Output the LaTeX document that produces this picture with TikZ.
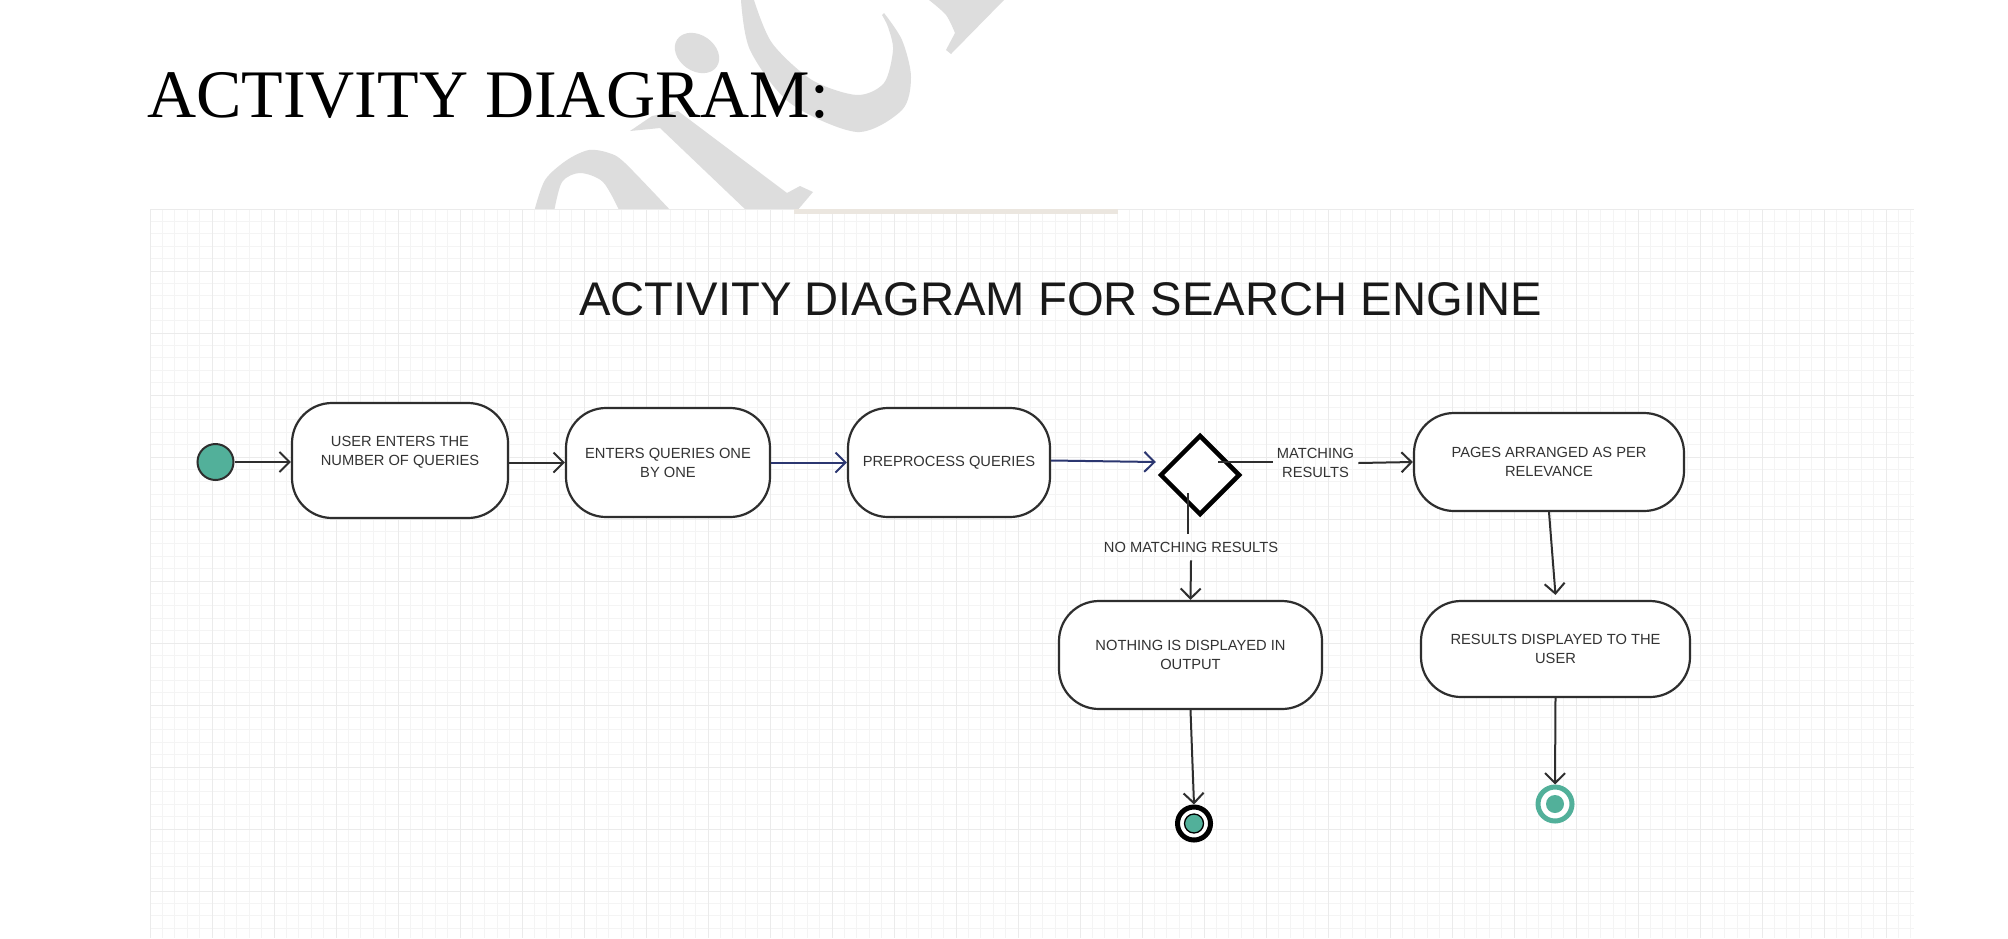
\documentclass[tikz,border=0pt]{standalone}
\usepackage{fontspec}
\setmainfont{Liberation Serif}
\newfontfamily\arialf{Liberation Sans}
\usetikzlibrary{arrows.meta,shapes.geometric}
\definecolor{tealc}{HTML}{52B09A}
\definecolor{navyc}{HTML}{2B3670}
\definecolor{wmc}{HTML}{DDDDDD}
\definecolor{gridminor}{HTML}{F4F4F4}
\definecolor{gridmajor}{HTML}{EBEBEB}
\definecolor{barc}{HTML}{EBE6DF}
\definecolor{txtc}{HTML}{333333}
\definecolor{linec}{HTML}{2E2E2E}
\tikzset{
  actbox/.style={draw=linec, line width=2.2pt, rounded corners=40pt, fill=white, inner sep=0pt, align=center, text=txtc, font=\arialf\fontsize{14.7}{19}\selectfont},
  lbl/.style={text=txtc, align=center, font=\arialf\fontsize{14.7}{19}\selectfont, inner sep=4pt},
  txtonly/.style={text=txtc, align=center, font=\arialf\fontsize{14.7}{19}\selectfont, inner sep=0pt},
  arr/.style={draw=linec, line width=2pt, -{Straight Barb[length=10pt,width=20pt]}},
  arrn/.style={arr, draw=navyc},
  plain/.style={draw=linec, line width=2pt},
  wm/.style={fill=wmc, draw=none}
}
\begin{document}
\begin{tikzpicture}[x=1pt,y=-1pt]
\useasboundingbox (0,0) rectangle (2008,938);
\fill[white] (0,0) rectangle (2008,938);
% watermark fragments
\fill[wm] plot[smooth] coordinates {(741,0) (750,50) (790,103) (857,132) (902,110) (911,77) (902,40) (884,13)}
  -- plot[smooth] coordinates {(882,15) (888,27) (893,50) (884,83) (857,95) (812,80) (772,43) (754,0)} -- cycle;
\fill[wm] plot[smooth] coordinates {(929,0) (946,15) (955,33)} -- (946,50) -- (951,54) -- (1004,0) -- cycle;
\fill[wm, rotate around={-35:(697,53)}] (697,53) ellipse [x radius=24pt, y radius=18pt];
\fill[wm] (630,131) -- (652,116) -- (678,111) -- (787,193) -- (800,186) -- (813,192) -- (796,212) -- (748,212) -- (660,128) -- cycle;
\fill[wm] plot[smooth] coordinates {(534,212) (545,180) (567,160) (589,150) (609,153) (625,163) (672,212)}
  -- plot[smooth] coordinates {(620,212) (603,182) (580,173) (562,182) (554,212)} -- cycle;
% grid panel
\fill[white] (150,209) rectangle (1914,938);
\foreach \i in {0,...,142} {\draw[gridminor, line width=0.8pt] ({150+\i*12.4},209) -- ({150+\i*12.4},938);}
\foreach \j in {0,...,58} {\draw[gridminor, line width=0.8pt] (150,{209+\j*12.4}) -- (1914,{209+\j*12.4});}
\foreach \i in {0,...,28} {\draw[gridmajor, line width=0.8pt] ({150+\i*62},209) -- ({150+\i*62},938);}
\foreach \j in {0,...,11} {\draw[gridmajor, line width=0.8pt] (150,{209+\j*62}) -- (1914,{209+\j*62});}
\fill[barc] (794,209) rectangle (1118,214);
% titles
\node[anchor=base west, inner sep=0pt, font=\fontsize{68}{72}\selectfont] (title) at (147,117) {ACTIVITY DIAGRAM:};
\node[anchor=base, inner sep=0pt, font=\arialf\fontsize{47.2}{50}\selectfont, text=black!90] (subtitle) at (1060.5,315) {ACTIVITY DIAGRAM FOR SEARCH ENGINE};
% nodes
\node[circle, minimum size=36pt, inner sep=0pt, fill=tealc, draw=linec, line width=2pt] (start) at (215.5,462) {};
\node[actbox, minimum width=216pt, minimum height=115pt] (b1) at (400,460.5) {};
\node[txtonly] (t1) at (400,452.5) {USER ENTERS THE\\NUMBER OF QUERIES};
\node[actbox, minimum width=204pt, minimum height=109pt] (b2) at (668,462.5) {ENTERS QUERIES ONE\\BY ONE};
\node[actbox, minimum width=202pt, minimum height=109pt] (b3) at (949,462.5) {PREPROCESS QUERIES};
\node[diamond, aspect=1, minimum width=80pt, minimum height=80pt, inner sep=0pt, draw=black, line width=4.5pt, fill=white] (dia) at (1200,475) {};
\node[actbox, minimum width=270pt, minimum height=98pt] (b4) at (1549,462) {PAGES ARRANGED AS PER\\RELEVANCE};
\node[actbox, minimum width=269pt, minimum height=96pt] (b5) at (1555.5,649) {RESULTS DISPLAYED TO THE\\USER};
\node[actbox, minimum width=263pt, minimum height=108pt] (b6) at (1190.5,655) {NOTHING IS DISPLAYED IN\\OUTPUT};
\node[lbl] (mr) at (1315.5,463) {MATCHING\\RESULTS};
\node[lbl, inner ysep=8pt] (nm) at (1191,547) {NO MATCHING RESULTS};
\node[circle, minimum size=33pt, inner sep=0pt, draw=black, line width=5pt, fill=white] (f1) at (1194,823.5) {};
\node[circle, minimum size=19pt, inner sep=0pt, fill=tealc, draw=black, line width=1.3pt] (f1i) at (f1.center) {};
\node[circle, minimum size=34pt, inner sep=0pt, draw=tealc, line width=5pt, fill=white] (f2) at (1555,804) {};
\node[circle, minimum size=18pt, inner sep=0pt, fill=tealc] (f2i) at (f2.center) {};
% connectors
\coordinate (dr) at (1218,462);
\coordinate (dd) at (1188,493);
\draw[arr] (start.east) -- (start.east -| b1.west);
\draw[arr] (b1.east |- b2.west) -- (b2.west);
\draw[arrn] (b2.east) -- (b3.west);
\draw[arrn] ([yshift=2pt]b3.east) -- ([xshift=-2pt,yshift=13pt]dia.west);
\draw[plain] (dr) -- (dr -| mr.west);
\draw[arr] (mr.east) -- (b4.west);
\draw[plain] (dd) -- (dd |- nm.north);
\draw[arr] (nm.south) -- (b6.north);
\draw[arr] (b4.south) -- ([yshift=5pt]b5.north);
\draw[arr] (b6.south) -- (f1.north);
\draw[arr] (b5.south) -- (f2.north);
\end{tikzpicture}
\end{document}
